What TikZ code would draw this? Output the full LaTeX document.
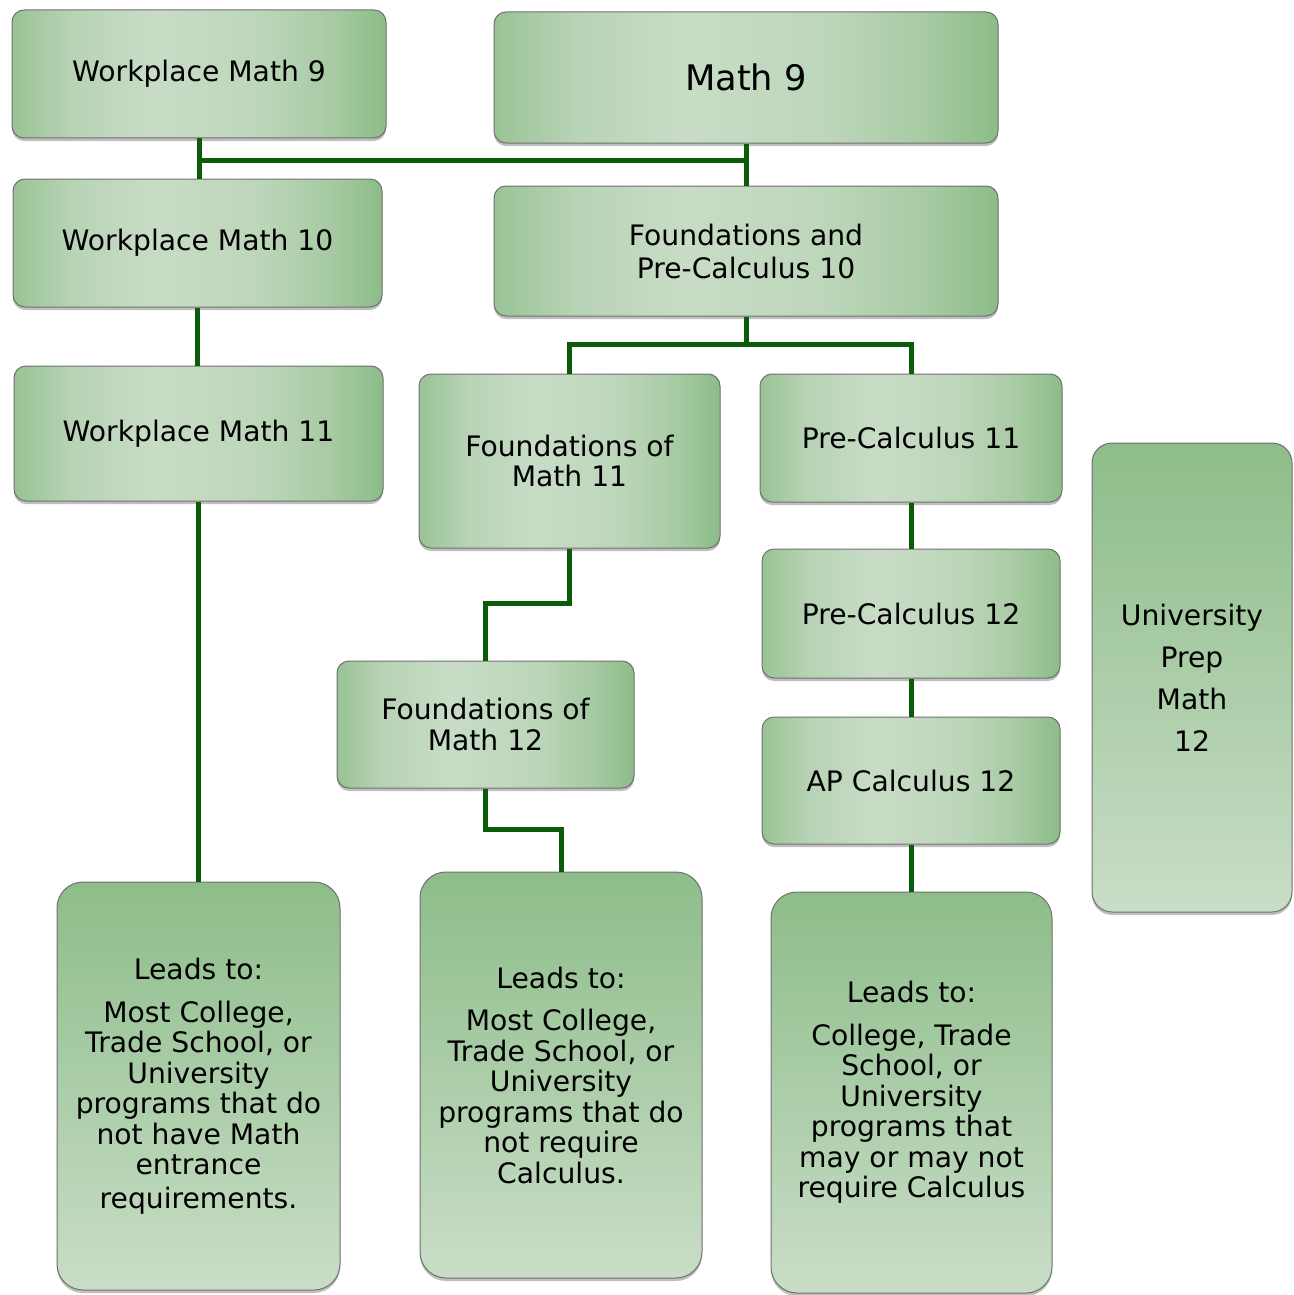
\documentclass[tikz,border=0pt]{standalone}
\usepackage{fontspec}
\setmainfont{DejaVu Sans}
\usetikzlibrary{shadows}
\definecolor{edgegreen}{HTML}{8DBD89}
\definecolor{lightgreen}{HTML}{C9DDC7}
\definecolor{linegreen}{HTML}{0A5C0A}
\definecolor{bordergray}{HTML}{707070}
\definecolor{sA}{HTML}{98C394}
\definecolor{sB}{HTML}{B8D3B5}
\definecolor{sC}{HTML}{C8DCC6}
\definecolor{sD}{HTML}{BDD6BA}
\definecolor{sE}{HTML}{A6CAA2}
\definecolor{sF}{HTML}{8CBC88}
\pgfdeclarehorizontalshading{boxshade}{100bp}{color(0bp)=(sA); color(25bp)=(sA); color(33bp)=(sB); color(44bp)=(sC); color(58bp)=(sD); color(68bp)=(sE); color(75bp)=(sF); color(100bp)=(sF)}
\tikzset{
  base/.style={draw=bordergray, line width=1pt, inner sep=0pt, align=center,
    drop shadow={shadow xshift=0pt, shadow yshift=-3pt, fill=black, opacity=0.25},
    font=\fontsize{28.2}{30.5}\selectfont},
  hbox/.style={base, rounded corners=12pt, shading=boxshade},
  vbox/.style={base, rounded corners=26pt, top color=edgegreen, bottom color=lightgreen},
  conn/.style={draw=linegreen, line width=5pt},
}
\begin{document}
\begin{tikzpicture}[x=1pt,y=-1pt]
\useasboundingbox (0,0) rectangle (1293,1295);
% row 1
\node[hbox, minimum width=374pt, minimum height=128pt] (wm9) at (199,74) {Workplace Math 9};
\node[hbox, minimum width=504pt, minimum height=131pt, font=\fontsize{35.2}{38}\selectfont] (m9) at (746,77.5) {Math 9};
% row 2
\node[hbox, minimum width=369pt, minimum height=128pt] (wm10) at (197.5,243) {Workplace Math 10};
\node[hbox, minimum width=504pt, minimum height=130pt, font=\fontsize{28.2}{33}\selectfont] (fpc10) at (746,251) {Foundations and\\Pre-Calculus 10};
% row 3
\node[hbox, minimum width=369pt, minimum height=135pt] (wm11) at (198.5,433.5) {Workplace Math 11};
\node[hbox, minimum width=301pt, minimum height=174pt, font=\fontsize{28.2}{30}\selectfont] (fm11) at (569.5,461) {Foundations of\\Math 11};
\node[hbox, minimum width=302pt, minimum height=128pt] (pc11) at (911,438) {Pre-Calculus 11};
\node[hbox, minimum width=298pt, minimum height=129pt] (pc12) at (911,613.5) {Pre-Calculus 12};
\node[hbox, minimum width=298pt, minimum height=127pt] (ap12) at (911,780.5) {AP Calculus 12};
\node[hbox, minimum width=297pt, minimum height=127pt, font=\fontsize{28.2}{31}\selectfont] (fm12) at (485.5,724.5) {Foundations of\\Math 12};
\node[vbox, rounded corners=20pt, minimum width=200pt, minimum height=469pt, font=\fontsize{28.2}{42}\selectfont] (upm12) at (1192,677.5) {University\\Prep\\Math\\12};
% outcome boxes
\node[vbox, minimum width=283pt, minimum height=408pt] (lead1) at (198.5,1086) {Leads to:\\[12pt]Most College,\\Trade School, or\\University\\programs that do\\not have Math\\entrance\\[3pt]requirements.};
\node[vbox, minimum width=282pt, minimum height=406pt] (lead2) at (561,1075) {Leads to:\\[12pt]Most College,\\Trade School, or\\University\\programs that do\\not require\\Calculus.};
\node[vbox, minimum width=281pt, minimum height=401pt] (lead3) at (911.5,1092.5) {Leads to:\\[12pt]College, Trade\\School, or\\University\\programs that\\may or may not\\require Calculus};
% junctions
\coordinate (j1) at (0,160);
\coordinate (j2) at (0,344);
\coordinate (j3) at (0,603);
\coordinate (j4) at (0,829);
% connectors
\draw[conn] (wm9.south) -- (wm9.south |- wm10.north);
\draw[conn] (m9.south) -- (fpc10.north);
\draw[conn] (wm9.south |- j1) -- (m9.south |- j1);
\draw[conn] (wm10.south) -- (wm10.south |- wm11.north);
\draw[conn] (fpc10.south) -- (fpc10.south |- j2);
\draw[conn] (fm11.north) -- (fm11.north |- j2) -- (pc11.north |- j2) -- (pc11.north);
\draw[conn] (pc11.south) -- (pc12.north);
\draw[conn] (pc12.south) -- (ap12.north);
\draw[conn] (ap12.south) -- (ap12.south |- lead3.north);
\draw[conn] (fm11.south) -- (fm11.south |- j3) -- (fm12.north |- j3) -- (fm12.north);
\draw[conn] (fm12.south) -- (fm12.south |- j4) -- (lead2.north |- j4) -- (lead2.north);
\draw[conn] (wm11.south) -- (wm11.south |- lead1.north);
\end{tikzpicture}
\end{document}
